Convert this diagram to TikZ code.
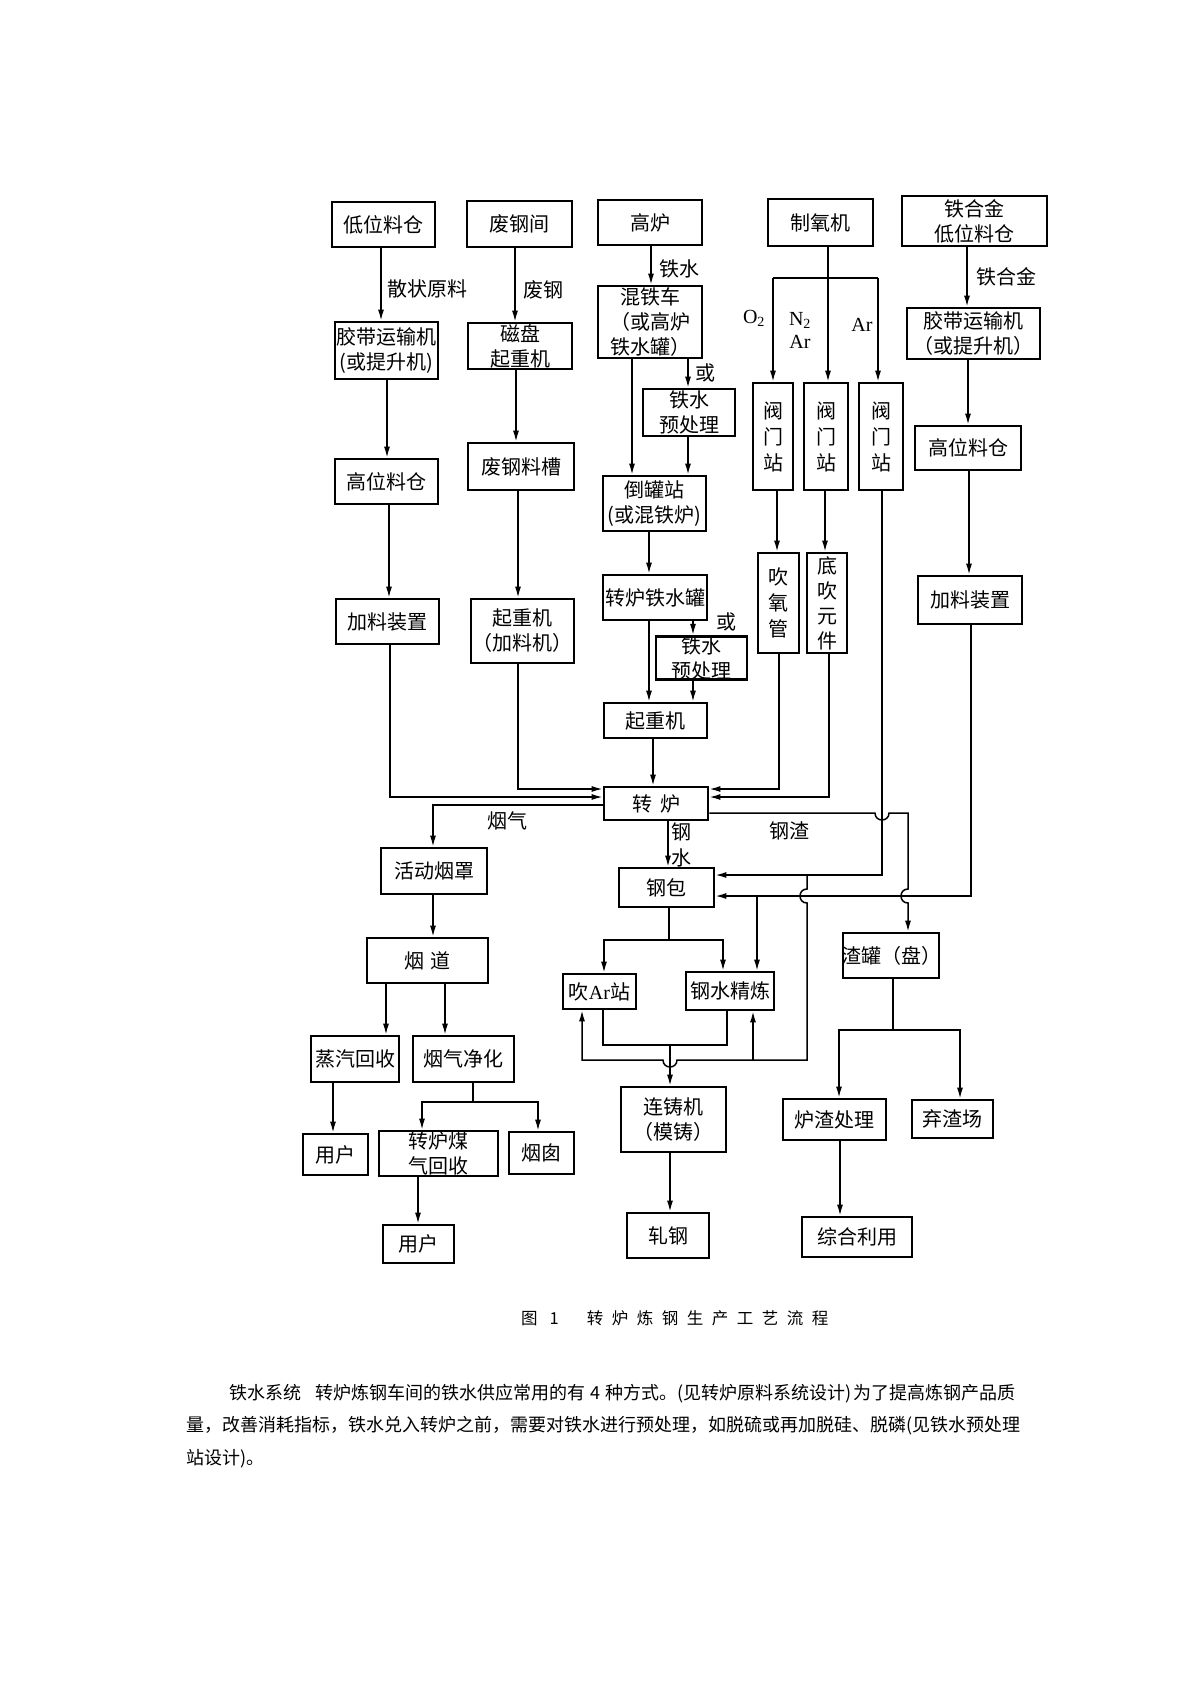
\documentclass[tikz,border=0pt]{standalone}
\usepackage{fontspec}
\setmainfont{Noto Sans CJK SC}
\newfontfamily\lat{Liberation Serif}
\usetikzlibrary{arrows.meta}
\newcommand\mybox[7][]{\node[box,minimum width={(#4)-(#2)},minimum height={(#5)-(#3)},#1] (#6) at ({((#2)+(#4))/2},{((#3)+(#5))/2}) {#7};}
\tikzset{
  box/.style={draw, line width=2.7pt, inner sep=0pt, align=center, font=\fontsize{20}{25}\selectfont},
  vbox/.style={font=\fontsize{20}{26}\selectfont},
  vboxb/.style={font=\fontsize{20}{25}\selectfont},
  lbl/.style={inner sep=0pt, align=center, font=\fontsize{20}{26}\selectfont},
  latl/.style={inner sep=0pt, align=center, font=\lat\fontsize{20}{23}\selectfont},
  para/.style={inner sep=0pt, anchor=west, font=\fontsize{18}{20}\selectfont},
  ln/.style={line width=1.5pt},
  arr/.style={ln, -{Latex[length=11pt,width=6pt]}},
}
\begin{document}
\begin{tikzpicture}[x=1pt,y=-1pt]
\useasboundingbox (0,0) rectangle (1200,1697);
\fill[white] (0,0) rectangle (1200,1697);

% ---------- boxes ----------
\mybox{332}{202}{435}{247}{dwlc}{低位料仓}
\mybox{467}{201}{572}{247}{fgj}{废钢间}
\mybox{598}{200}{702}{245}{gl}{高炉}
\mybox{768}{199}{873}{246}{zyj}{制氧机}
\mybox{902}{196}{1047}{246}{thj}{铁合金\\低位料仓}
\mybox{335}{322}{438}{379}{jd1}{胶带运输机\\(或提升机)}
\mybox{468}{323}{572}{369}{cp}{磁盘\\起重机}
\mybox{598}{286}{702}{358}{htc}{混铁车\\（或高炉\\铁水罐）}
\mybox{643}{389}{735}{436}{yc1}{铁水\\预处理}
\mybox[vbox]{753}{383}{793}{490}{fm1}{阀\\门\\站}
\mybox[vbox]{804}{383}{848}{490}{fm2}{阀\\门\\站}
\mybox[vbox]{859}{383}{903}{490}{fm3}{阀\\门\\站}
\mybox{907}{308}{1040}{359}{jd2}{胶带运输机\\\makebox[125pt]{（或提升机）}}
\mybox{335}{459}{438}{504}{gw1}{高位料仓}
\mybox{468}{443}{574}{490}{fgc}{废钢料槽}
\mybox{603}{476}{706}{531}{dgz}{倒罐站\\\makebox[95pt]{(或混铁炉)}}
\mybox{915}{426}{1021}{470}{gw2}{高位料仓}
\mybox{336}{599}{439}{644}{jl1}{加料装置}
\mybox{471}{599}{574}{663}{qzj1}{起重机\\（加料机）}
\mybox{603}{575}{707}{620}{zlt}{\makebox[95pt]{转炉铁水罐}}
\mybox{656}{638}{747}{678}{yc2}{铁水\\预处理}
\mybox[vbox]{758}{553}{799}{653}{cyg}{吹\\氧\\管}
\mybox[vboxb]{807}{553}{847}{653}{dc}{底\\吹\\元\\件}
\mybox{918}{576}{1022}{624}{jl2}{加料装置}
\mybox{604}{703}{707}{738}{qzj2}{起重机}
\mybox{604}{787}{708}{820}{zl}{转\hspace{8pt}炉}
\mybox{381}{848}{487}{894}{hdyz}{活动烟罩}
\mybox{619}{868}{714}{907}{gb}{钢包}
\mybox{843}{933}{939}{978}{zg}{\makebox[88pt]{渣罐（盘）}}
\mybox{367}{938}{488}{983}{yd}{烟\hspace{6pt}道}
\mybox{563}{974}{636}{1009}{car}{吹{\lat Ar}站}
\mybox{686}{972}{774}{1010}{gsjl}{钢水精炼}
\mybox{311}{1036}{399}{1082}{zqhs}{蒸汽回收}
\mybox{413}{1036}{514}{1082}{yqjh}{烟气净化}
\mybox{621}{1087}{726}{1152}{lzj}{连铸机\\（模铸）}
\mybox{783}{1099}{886}{1140}{lzcl}{炉渣处理}
\mybox{912}{1100}{993}{1138}{qzc}{弃渣场}
\mybox{303}{1134}{368}{1175}{yh1}{用户}
\mybox{379}{1131}{498}{1176}{zlmq}{转炉煤\\气回收}
\mybox{509}{1132}{574}{1174}{yc}{烟囱}
\mybox{383}{1225}{454}{1263}{yh2}{用户}
\mybox{627}{1213}{709}{1258}{zg2}{轧钢}
\mybox{802}{1217}{912}{1257}{zhly}{综合利用}

% ---------- labels ----------
\node[lbl] (t1) at (427,289) {散状原料};
\node[lbl] (t2) at (543,290) {废钢};
\node[lbl] (t3) at (679,269) {铁水};
\node[lbl] (t4) at (705,373) {或};
\node[lbl] (t5) at (726,622) {或};
\node[latl] (t6) at (754,318) {O\textsubscript{2}};
\node[latl] (t7) at (800,330) {N\textsubscript{2}\\Ar};
\node[latl] (t8) at (862,325) {Ar};
\node[lbl] (t9) at (1006,277) {铁合金};
\node[lbl] (t10) at (507,821) {烟气};
\node[lbl] (t11) at (681,845) {钢\\水};
\node[lbl] (t12) at (789,831) {钢渣};

% ---------- left columns ----------
\draw[arr] (dwlc.south -| 381,0) -- (jd1.north -| 381,0);
\draw[arr] (jd1.south -| 387,0) -- (gw1.north -| 387,0);
\draw[arr] (gw1.south -| 389,0) -- (jl1.north -| 389,0);
\draw[arr] (jl1.south -| 390,0) |- (zl.west |- 0,797);
\draw[arr] (fgj.south -| 515,0) -- (cp.north -| 515,0);
\draw[arr] (cp.south -| 516,0) -- (fgc.north -| 516,0);
\draw[arr] (fgc.south -| 518,0) -- (qzj1.north -| 518,0);
\draw[arr] (qzj1.south -| 518,0) |- (zl.west |- 0,789);

% ---------- hot metal column ----------
\draw[arr] (gl.south -| 651,0) -- (htc.north -| 651,0);
\draw[arr] (htc.south -| 632,0) -- (dgz.north -| 632,0);
\draw[arr] (htc.south -| 688,0) -- (yc1.north -| 688,0);
\draw[arr] (yc1.south -| 688,0) -- (dgz.north -| 688,0);
\draw[arr] (dgz.south -| 649,0) -- (zlt.north -| 649,0);
\draw[arr] (zlt.south -| 649,0) -- (qzj2.north -| 649,0);
\draw[arr] (zlt.south -| 693,0) -- (yc2.north -| 693,0);
\draw[arr] (yc2.south -| 693,0) -- (qzj2.north -| 693,0);
\draw[arr] (qzj2.south -| 653,0) -- (zl.north -| 653,0);
\draw[arr] (zl.south -| 668,0) -- (gb.north -| 668,0);

% ---------- oxygen plant ----------
\coordinate (ob) at (828,278);
\coordinate (obl) at (773,278);
\coordinate (obr) at (878,278);
\draw[arr] (zyj.south -| ob) -- (fm2.north -| ob);
\draw[ln] (obl) -- (obr);
\draw[arr] (obl) -- (fm1.north -| obl);
\draw[arr] (obr) -- (fm3.north -| obr);
\draw[arr] (fm1.south -| 777,0) -- (cyg.north -| 777,0);
\draw[arr] (fm2.south -| 825,0) -- (dc.north -| 825,0);
\draw[arr] (cyg.south -| 779,0) |- (zl.east |- 0,789);
\draw[arr] (dc.south -| 829,0) |- (zl.east |- 0,797);
\draw[arr] (fm3.south -| 882,0) |- (gb.east |- 0,875);
\coordinate (arj) at (807,875);
\draw[arr] (arj) -- (807,889) .. controls (797.7,889) and (797.7,903) .. (807,903)
  -- (807,1060) -- (677,1060) .. controls (677,1069.3) and (663,1069.3) .. (663,1060)
  -| (car.south -| 582,0);
\coordinate (arb) at (753,1060);
\draw[arr] (arb) -- (gsjl.south -| arb);

% ---------- ferroalloy ----------
\draw[arr] (thj.south -| 967,0) -- (jd2.north -| 967,0);
\draw[arr] (jd2.south -| 968,0) -- (gw2.north -| 968,0);
\draw[arr] (gw2.south -| 969,0) -- (jl2.north -| 969,0);
\draw[arr] (jl2.south -| 971,0) |- (gb.east |- 0,896);
\coordinate (fa) at (757,896);
\draw[arr] (fa) -- (gsjl.north -| fa);

% ---------- slag ----------
\draw[arr] (zl.east |- 0,813) -- (875,813) .. controls (875,822.3) and (889,822.3) .. (889,813)
  -- (908,813) -- (908,889) .. controls (898.7,889) and (898.7,903) .. (908,903)
  -- (zg.north -| 908,0);
\coordinate (zj) at (893,1030);
\draw[ln] (zg.south -| zj) -- (zj);
\draw[arr] (zj) -| (lzcl.north -| 839,0);
\draw[arr] (zj) -| (qzc.north -| 960,0);
\draw[arr] (lzcl.south -| 840,0) -- (zhly.north -| 840,0);

% ---------- off-gas ----------
\draw[arr] (zl.west |- 0,805) -| (hdyz.north -| 433,0);
\draw[arr] (hdyz.south -| 433,0) -- (yd.north -| 433,0);
\draw[arr] (yd.south -| 386,0) -- (zqhs.north -| 386,0);
\draw[arr] (yd.south -| 445,0) -- (yqjh.north -| 445,0);
\draw[arr] (zqhs.south -| 333,0) -- (yh1.north -| 333,0);
\coordinate (yj) at (473,1102);
\draw[ln] (yqjh.south -| yj) -- (yj);
\draw[arr] (yj) -| (zlmq.north -| 422,0);
\draw[arr] (yj) -| (yc.north -| 538,0);
\draw[arr] (zlmq.south -| 418,0) -- (yh2.north -| 418,0);

% ---------- ladle ----------
\coordinate (gj) at (669,940);
\draw[ln] (gb.south -| gj) -- (gj);
\draw[arr] (gj) -| (car.north -| 604,0);
\draw[arr] (gj) -| (gsjl.north -| 723,0);
\draw[ln] (car.south -| 603,0) -- (603,1045) -- (727,1045) -- (gsjl.south -| 727,0);
\coordinate (cj) at (670,1045);
\draw[arr] (cj) -- (lzj.north -| cj);
\draw[arr] (lzj.south -| 670,0) -- (zg2.north -| 670,0);

% ---------- caption and text ----------
\node[inner sep=0pt, anchor=west, font=\fontsize{16.5}{16}\selectfont] (cap) at (521,1318)
  {图\hspace{12pt}1\hspace{28pt}转\hspace{8.5pt}炉\hspace{8.5pt}炼\hspace{8.5pt}钢\hspace{8.5pt}生\hspace{8.5pt}产\hspace{8.5pt}工\hspace{8.5pt}艺\hspace{8.5pt}流\hspace{8.5pt}程};
\node[para] (p1) at (229,1394) {铁水系统\hspace{14pt}转炉炼钢车间的铁水供应常用的有\hspace{5pt}4\hspace{5pt}种方式。(见转炉原料系统设计)\hspace{2pt}为了提高炼钢产品质};
\node[para] (p2) at (186,1426) {量，改善消耗指标，铁水兑入转炉之前，需要对铁水进行预处理，如脱硫或再加脱硅、脱磷(见铁水预处理};
\node[para] (p3) at (186,1459) {站设计)。};
\end{tikzpicture}
\end{document}
